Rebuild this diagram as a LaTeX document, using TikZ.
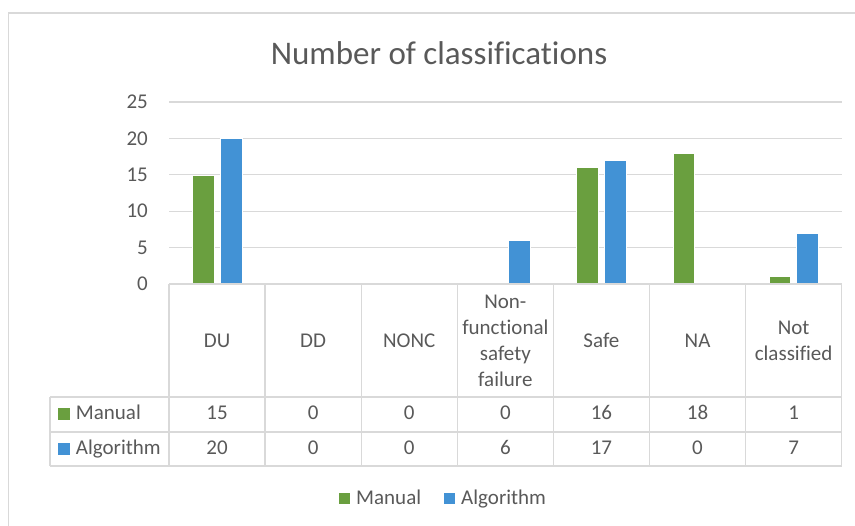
\documentclass[tikz,border=0pt]{standalone}
\usepackage{fontspec}
\setmainfont[RawFeature={-liga;-clig;-calt;-dlig}]{Carlito}
\definecolor{txt}{HTML}{595959}
\definecolor{gridc}{HTML}{D9D9D9}
\definecolor{mgreen}{RGB}{106,159,63}
\definecolor{ablue}{RGB}{66,146,213}
\begin{document}
\begin{tikzpicture}[x=1pt,y=-1pt,
  lbl/.style={text=txt,font=\fontsize{21}{26}\selectfont,inner sep=0pt,align=center},
  gridline/.style={draw=gridc,line width=1.3pt},
  tabline/.style={draw=gridc,line width=1.4pt},
  manbar/.style={fill=mgreen,draw=white,line width=0.5pt},
  algbar/.style={fill=ablue,draw=white,line width=0.5pt}]
\useasboundingbox (0,0) rectangle (855,526);
\clip (0,0) rectangle (855,526);
% outer chart frame
\draw[gridline] (8.7,13) rectangle (870,540);
% title
\node[lbl,font=\fontsize{33}{40}\selectfont,anchor=base] (title) at (439,65) {Number of classifications};
% gridlines and axis labels
\foreach \k in {1,...,5}{
  \draw[gridline] (169,{284-36.4*\k}) -- (841.7,{284-36.4*\k});
}
\foreach \k/\v in {0/0,1/5,2/10,3/15,4/20,5/25}{
  \node[lbl,anchor=east] (ax\k) at (148,{284-36.4*\k}) {\v};
}
% bars
\foreach \i/\m/\a in {0/15/20,1/0/0,2/0/0,3/0/6,4/16/17,5/18/0,6/1/7}{
  \pgfmathsetmacro\cx{169+96.1*(\i+0.5)}
  \ifnum\m>0
    \fill[manbar] ({\cx-24.8},284) rectangle ({\cx-3},{284-7.28*\m});
  \fi
  \ifnum\a>0
    \fill[algbar] ({\cx+3},284) rectangle ({\cx+24.8},{284-7.28*\a});
  \fi
}
% table lines
\draw[tabline] (169,284) -- (841.7,284);
\foreach \yy in {397,432,466}{
  \draw[tabline] (50,\yy) -- (841.7,\yy);
}
\draw[tabline] (50,397) -- (50,466);
\foreach \i in {0,...,7}{
  \draw[tabline] ({169+96.1*\i},284) -- ({169+96.1*\i},466);
}
% header labels
\foreach \i/\t in {0/DU,1/DD,2/NONC,3/{Non-\\functional\\safety\\failure},4/Safe,5/NA,6/{Not\\classified}}{
  \node[lbl] (h\i) at ({169+96.1*(\i+0.5)},340.5) {\t};
}
% row labels
\fill[mgreen] (58,408) rectangle (70,420);
\node[lbl,anchor=base west] (rowman) at (75.7,420) {Manual};
\fill[ablue] (58,443) rectangle (70,455);
\node[lbl,anchor=base west] (rowalg) at (75.7,455) {Algorithm};
% values
\foreach \i/\m/\a in {0/15/20,1/0/0,2/0/0,3/0/6,4/16/17,5/18/0,6/1/7}{
  \node[lbl,anchor=base] (m\i) at ({169+96.1*(\i+0.5)},420) {\m};
  \node[lbl,anchor=base] (a\i) at ({169+96.1*(\i+0.5)},455) {\a};
}
% legend
\fill[mgreen] (339.3,493.3) rectangle (350.3,504.3);
\node[lbl,anchor=base west] (legman) at (356,505) {Manual};
\fill[ablue] (443.5,493.3) rectangle (454.5,504.3);
\node[lbl,anchor=base west] (legalg) at (461,505) {Algorithm};
\end{tikzpicture}
\end{document}
